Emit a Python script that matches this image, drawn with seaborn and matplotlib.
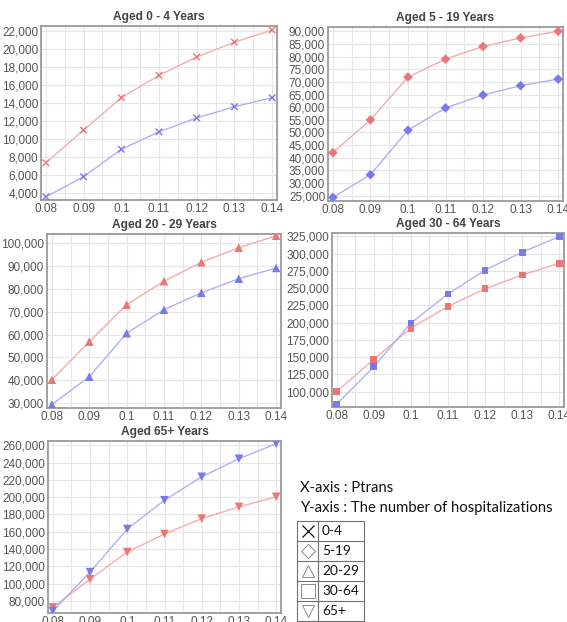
import numpy as np
import pandas as pd
import matplotlib
matplotlib.use("Agg")
import matplotlib.pyplot as plt
import seaborn as sns
from matplotlib.ticker import FixedLocator, MultipleLocator, FuncFormatter

# ---------------- data ----------------
ptrans = [0.08, 0.09, 0.10, 0.11, 0.12, 0.13, 0.14]

age0_4_red = [7350, 11000, 14600, 17100, 19150, 20800, 22150]
age0_4_blue = [3550, 5800, 8850, 10800, 12350, 13600, 14600]
age5_19_red = [42000, 55000, 71900, 79000, 84000, 87400, 90000]
age5_19_blue = [24300, 33300, 50900, 59700, 64800, 68500, 71100]
age20_29_red = [40200, 56900, 73100, 83400, 91700, 98100, 103300]
age20_29_blue = [29300, 41500, 60600, 70900, 78300, 84500, 89200]
age30_64_red = [100000, 147000, 192000, 223500, 249000, 269000, 286000]
age30_64_blue = [82000, 136000, 199500, 241500, 276000, 302000, 324500]
age65_red = [72600, 105200, 136500, 157400, 175200, 188800, 200400]
age65_blue = [68400, 113300, 163200, 196500, 223600, 244500, 261900]

titles = ["Aged 0 - 4 Years", "Aged 5 - 19 Years", "Aged 20 - 29 Years",
          "Aged 30 - 64 Years", "Aged 65+ Years"]
x_tick_labels = ["0.08", "0.09", "0.1", "0.11", "0.12", "0.13", "0.14"]
legend_labels = ["0-4", "5-19", "20-29", "30-64", "65+"]
x_axis_text = "X-axis : Ptrans"
y_axis_text = "Y-axis : The number of hospitalizations"

panel_red = [age0_4_red, age5_19_red, age20_29_red, age30_64_red, age65_red]
panel_blue = [age0_4_blue, age5_19_blue, age20_29_blue, age30_64_blue, age65_blue]
y_ticks = [np.arange(4000, 22001, 2000), np.arange(25000, 90001, 5000),
           np.arange(30000, 100001, 10000), np.arange(100000, 325001, 25000),
           np.arange(80000, 260001, 20000)]
y_lims = [(3200, 22600), (22900, 91700), (27800, 104100), (77700, 329800), (66000, 265000)]
markers = ["x", "D", "^", "s", "v"]
msizes = [22, 24, 38, 24, 38]

# ---------------- layout (pixels) ----------------
W, H = 567, 622
rects_px = [(41, 277, 26, 200), (328, 563, 27, 201), (47, 281, 234, 408),
            (332, 564, 233, 407), (48, 281, 441, 613)]

sns.set_theme(style="white")
plt.rcParams["font.family"] = ["Liberation Sans", "DejaVu Sans"]

fig = plt.figure(figsize=(W / 100, H / 100), dpi=100)

RED_LINE, RED_MARK = "#f4acac", "#ef7474"
BLUE_LINE, BLUE_MARK = "#b0b0f5", "#7979ee"

for i in range(5):
    l, r, t, b = rects_px[i]
    ax = fig.add_axes([l / W, 1 - b / H, (r - l) / W, (b - t) / H])
    df = pd.DataFrame({
        "ptrans": ptrans * 2,
        "value": panel_red[i] + panel_blue[i],
        "series": ["red"] * 7 + ["blue"] * 7,
    })
    sns.lineplot(data=df, x="ptrans", y="value", hue="series",
                 palette={"red": RED_LINE, "blue": BLUE_LINE},
                 linewidth=1.0, legend=False, ax=ax, zorder=2)
    kw = dict(linewidths=1.0) if markers[i] == "x" else dict(edgecolor="none")
    sns.scatterplot(data=df, x="ptrans", y="value", hue="series",
                    palette={"red": RED_MARK, "blue": BLUE_MARK},
                    marker=markers[i], s=msizes[i], legend=False, ax=ax,
                    zorder=3, **kw)
    ax.set_xlim(0.0787, 0.1413)
    ax.set_ylim(*y_lims[i])
    ax.xaxis.set_major_locator(FixedLocator(ptrans))
    ax.set_xticklabels(x_tick_labels)
    ax.xaxis.set_minor_locator(MultipleLocator(0.005))
    ax.yaxis.set_major_locator(FixedLocator(y_ticks[i]))
    ax.yaxis.set_major_formatter(FuncFormatter(lambda v, p: f"{int(round(v)):,}"))
    ax.grid(True, which="major", color="#e6e6e6", linewidth=0.8)
    ax.grid(True, which="minor", axis="x", color="#e6e6e6", linewidth=0.8)
    ax.set_axisbelow(True)
    ax.tick_params(axis="both", which="both", length=0, pad=2,
                   labelsize=8.5, labelcolor="#555555")
    ax.set_xlabel("")
    ax.set_ylabel("")
    for sp in ax.spines.values():
        sp.set_color("#9a9a9a")
        sp.set_linewidth(1.3)
    ax.set_title(titles[i], fontsize=8.6, fontweight="bold", color="#444444", pad=4)

# ---------------- text legend / table ----------------
ov = fig.add_axes([0, 0, 1, 1], zorder=-1)
ov.set_xlim(0, W)
ov.set_ylim(H, 0)
ov.axis("off")
ov.patch.set_alpha(0)

fam = ["Lato", "DejaVu Sans"]
ov.text(300, 488, x_axis_text, fontsize=10.7, family=fam, color="#111111", va="center", ha="left")
ov.text(300, 508, y_axis_text, fontsize=10.7, family=fam, color="#111111", va="center", ha="left")

tl, tm, tr = 297, 318, 364
top, rowh = 521, 20
nrow = len(legend_labels)
lc = "#707070"
for k in range(nrow + 1):
    y = top + k * rowh
    ov.plot([tl, tr], [y, y], color=lc, lw=0.8)
for x in (tl, tm, tr):
    ov.plot([x, x], [top, top + nrow * rowh], color=lc, lw=0.8)

leg_markers = ["x", "D", "^", "s", "v"]
leg_sizes = [8, 7, 9, 10, 9]
for k in range(nrow):
    yc = top + k * rowh + rowh / 2
    if leg_markers[k] == "x":
        ov.plot([(tl + tm) / 2], [yc], marker="x", color="#111111", markersize=8, mew=0.9)
    else:
        ov.plot([(tl + tm) / 2], [yc], marker=leg_markers[k], markerfacecolor="none",
                markeredgecolor="#8a8a8a", markersize=leg_sizes[k], mew=0.7)
    ov.text(tm + 4, yc, legend_labels[k], fontsize=9.8, family=fam, color="#111111",
            va="center", ha="left")

fig.savefig("out.png", dpi=100)
